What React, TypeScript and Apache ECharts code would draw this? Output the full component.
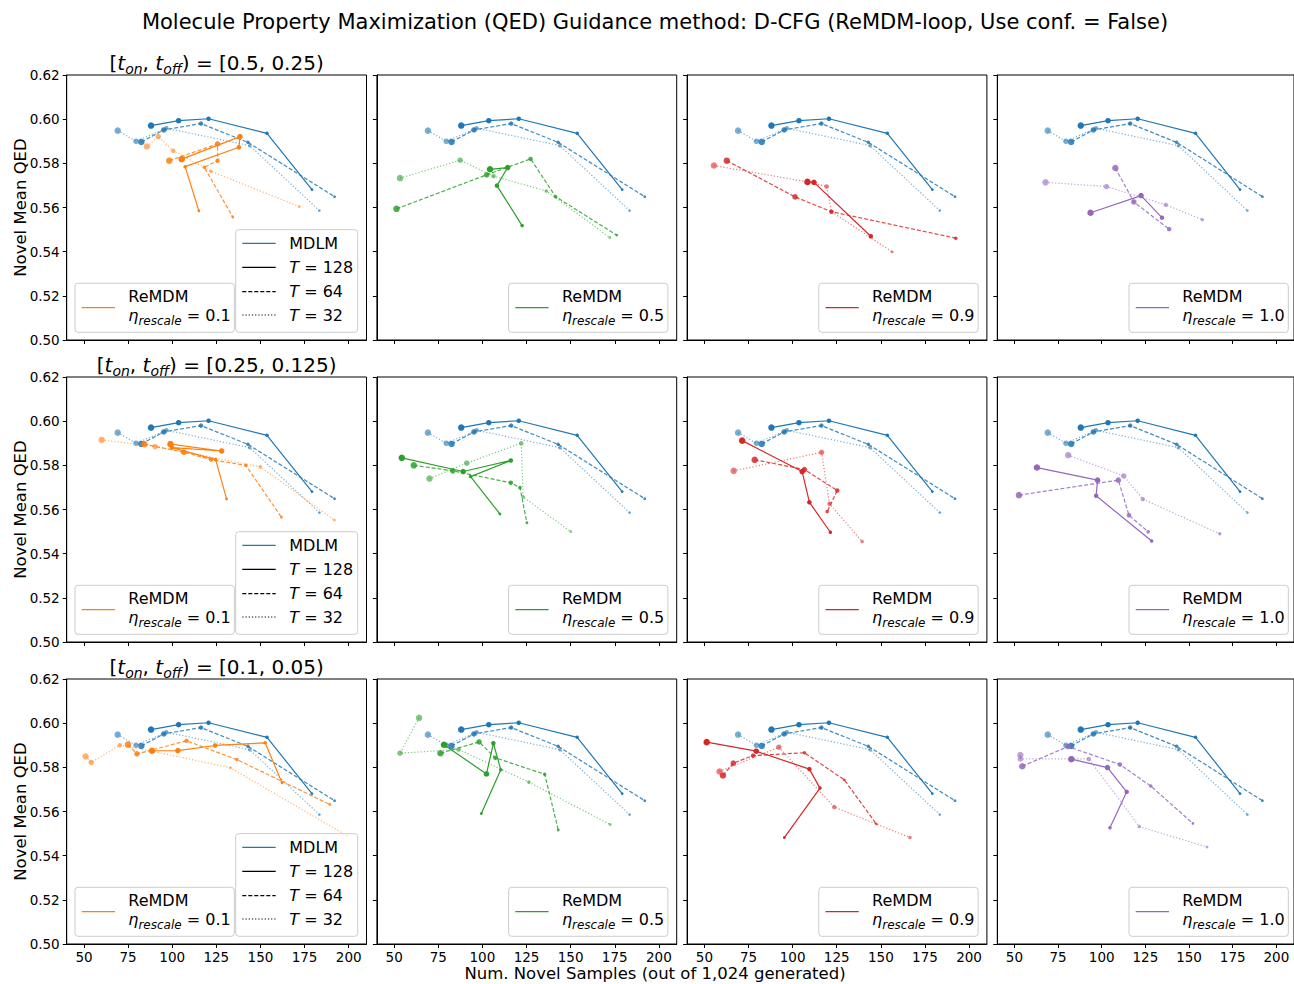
import React, { useEffect, useRef } from "react";
import * as echarts from "echarts";

// ---------------- DATA ----------------
const xTicks = [50, 75, 100, 125, 150, 175, 200];
const yTicks = [0.5, 0.52, 0.54, 0.56, 0.58, 0.6, 0.62];
const tOnOffLabels = ["[0.5, 0.25)", "[0.25, 0.125)", "[0.1, 0.05)"];
const etaLabels = ["0.1", "0.5", "0.9", "1.0"];
const stepLabels = ["128", "64", "32"];

// MDLM baseline (same in every panel)
const mdlmT128 = [[88.0, 0.5971], [103.6, 0.5993], [120.6, 0.6002], [153.7, 0.5936], [179.2, 0.5681]];
const mdlmT64 = [[82.5, 0.5897], [95.2, 0.5951], [116.3, 0.598], [142.9, 0.5895], [192.0, 0.5649]];
const mdlmT32 = [[69.1, 0.5948], [79.5, 0.59], [96.7, 0.5959], [143.9, 0.588], [183.4, 0.5586]];

// Row 1: [t_on, t_off) = [0.5, 0.25)
const r1Eta01T128 = [[105.4, 0.5819], [138.4, 0.5921], [137.8, 0.5873], [107.3, 0.5785], [115.1, 0.5585]];
const r1Eta01T64 = [[98.3, 0.5812], [125.7, 0.5888], [125.7, 0.5812], [118.2, 0.5782], [134.3, 0.5557]];
const r1Eta01T32 = [[85.6, 0.5876], [92.1, 0.5921], [100.6, 0.5857], [122.0, 0.5764], [172.0, 0.5604]];
const r1Eta05T128 = [[104.3, 0.5773], [114.3, 0.5781], [108.2, 0.5699], [122.5, 0.5518]];
const r1Eta05T64 = [[51.3, 0.5594], [102.4, 0.5748], [127.3, 0.582], [141.5, 0.5649], [176.1, 0.5475]];
const r1Eta05T32 = [[53.3, 0.5733], [87.4, 0.5814], [106.3, 0.5742], [136.2, 0.5675], [172.2, 0.5464]];
const r1Eta09T128 = [[108.4, 0.5716], [112.1, 0.5714], [144.3, 0.547]];
const r1Eta09T64 = [[62.7, 0.5812], [101.4, 0.5648], [122.0, 0.5581], [192.5, 0.5461]];
const r1Eta09T32 = [[55.4, 0.579], [108.4, 0.5716], [119.3, 0.5695], [122.0, 0.5581], [156.4, 0.5399]];
const r1Eta10T128 = [[93.6, 0.5576], [122.5, 0.5654], [134.5, 0.5554]];
const r1Eta10T64 = [[107.8, 0.5779], [118.4, 0.5625], [138.6, 0.5502]];
const r1Eta10T32 = [[67.8, 0.5714], [102.7, 0.5695], [136.7, 0.5612], [157.6, 0.5545]];

// Row 2: [t_on, t_off) = [0.25, 0.125)
const r2Eta01T128 = [[99.0, 0.5896], [128.0, 0.5865], [99.9, 0.588], [124.6, 0.5826], [130.8, 0.5648]];
const r2Eta01T64 = [[84.2, 0.5896], [106.7, 0.5859], [122.0, 0.5826], [141.7, 0.58], [161.9, 0.5565]];
const r2Eta01T32 = [[60.0, 0.5915], [90.3, 0.5885], [106.1, 0.5862], [149.9, 0.5793], [191.9, 0.5552]];
const r2Eta05T128 = [[54.3, 0.5834], [89.1, 0.5772], [116.1, 0.5822], [93.3, 0.5749], [109.9, 0.558]];
const r2Eta05T64 = [[61.1, 0.58], [83.2, 0.5775], [116.1, 0.5721], [121.3, 0.5699], [125.2, 0.554]];
const r2Eta05T32 = [[70.0, 0.574], [91.1, 0.581], [122.0, 0.59], [123.1, 0.5657], [150.0, 0.55]];
const r2Eta09T128 = [[71.4, 0.5912], [105.4, 0.5772], [109.5, 0.5633], [121.4, 0.5497]];
const r2Eta09T64 = [[78.5, 0.5825], [106.7, 0.5781], [125.3, 0.5686], [119.6, 0.5591]];
const r2Eta09T32 = [[66.6, 0.5775], [116.4, 0.5859], [120.9, 0.5626], [139.4, 0.5455]];
const r2Eta10T128 = [[62.9, 0.579], [97.6, 0.5733], [96.8, 0.5662], [128.6, 0.5457]];
const r2Eta10T64 = [[52.6, 0.5665], [109.5, 0.5733], [115.6, 0.5574], [126.6, 0.5499]];
const r2Eta10T32 = [[80.8, 0.5846], [112.6, 0.5752], [123.5, 0.5647], [167.6, 0.549]];

// Row 3: [t_on, t_off) = [0.1, 0.05)
const r3Eta01T128 = [[88.5, 0.5875], [103.2, 0.5876], [124.3, 0.5899], [152.7, 0.5911], [162.2, 0.573]];
const r3Eta01T64 = [[74.9, 0.5903], [80.0, 0.5861], [108.1, 0.592], [136.7, 0.5835], [189.3, 0.5632]];
const r3Eta01T32 = [[50.9, 0.5849], [54.1, 0.5822], [70.3, 0.59], [89.2, 0.5872], [133.0, 0.5798], [199.1, 0.549]];
const r3Eta05T128 = [[78.2, 0.5902], [102.3, 0.577], [106.2, 0.5909], [110.4, 0.5789], [99.4, 0.5591]];
const r3Eta05T64 = [[76.2, 0.5864], [98.1, 0.5915], [107.3, 0.5843], [135.3, 0.5769], [143.0, 0.5516]];
const r3Eta05T32 = [[64.1, 0.6024], [53.3, 0.5864], [86.5, 0.5881], [126.3, 0.5733], [172.4, 0.5541]];
const r3Eta09T128 = [[51.3, 0.5914], [79.4, 0.5873], [109.5, 0.5792], [115.5, 0.5706], [95.3, 0.5482]];
const r3Eta09T64 = [[60.5, 0.5763], [66.4, 0.5819], [77.6, 0.5853], [106.7, 0.5866], [129.3, 0.5743], [147.4, 0.5544]];
const r3Eta09T32 = [[58.6, 0.5781], [92.2, 0.5891], [123.6, 0.562], [166.5, 0.5482]];
const r3Eta10T128 = [[82.6, 0.5837], [103.3, 0.5799], [114.3, 0.5689], [104.7, 0.5526]];
const r3Eta10T64 = [[54.5, 0.5805], [80.6, 0.5894], [110.4, 0.5813], [128.1, 0.5715], [152.2, 0.5546]];
const r3Eta10T32 = [[53.4, 0.5856], [53.4, 0.5838], [92.6, 0.5838], [121.5, 0.5532], [160.3, 0.5439]];

const mdlmLines = [mdlmT128, mdlmT64, mdlmT32];
const remdmLines = [
  [
    [r1Eta01T128, r1Eta01T64, r1Eta01T32],
    [r1Eta05T128, r1Eta05T64, r1Eta05T32],
    [r1Eta09T128, r1Eta09T64, r1Eta09T32],
    [r1Eta10T128, r1Eta10T64, r1Eta10T32],
  ],
  [
    [r2Eta01T128, r2Eta01T64, r2Eta01T32],
    [r2Eta05T128, r2Eta05T64, r2Eta05T32],
    [r2Eta09T128, r2Eta09T64, r2Eta09T32],
    [r2Eta10T128, r2Eta10T64, r2Eta10T32],
  ],
  [
    [r3Eta01T128, r3Eta01T64, r3Eta01T32],
    [r3Eta05T128, r3Eta05T64, r3Eta05T32],
    [r3Eta09T128, r3Eta09T64, r3Eta09T32],
    [r3Eta10T128, r3Eta10T64, r3Eta10T32],
  ],
];

// ---------------- STYLE / LAYOUT ----------------
const FONT = "DejaVu Sans";
const MDLM_COLOR = "#1f77b4";
const ETA_COLORS = ["#ff7f0e", "#2ca02c", "#d62728", "#9467bd"];
const PANEL_LEFT = [66.7, 376.9, 687.1, 997.3];
const PANEL_TOP = [75, 377, 679];
const PANEL_W = 299.8;
const PANEL_H = 265;
const X_MIN = 40.2;
const X_MAX = 210.1;
const LINE_STYLES: any[] = [
  { type: "solid", opacity: 1 },
  { type: [4, 2], opacity: 0.85 },
  { type: [1.2, 2], opacity: 0.6 },
];
const MARKER_SIZES = [6.5, 5.5, 4.5, 3.5, 2.8, 2.5];

const richMath = (size: number, sub: number) => ({
  n: { fontSize: size, fontFamily: FONT, fill: "#000", lineHeight: size + 6 },
  i: { fontSize: size, fontFamily: FONT, fontStyle: "italic", fill: "#000", lineHeight: size + 6 },
  s: { fontSize: sub, fontFamily: FONT, fontStyle: "italic", fill: "#000", lineHeight: sub + 4, verticalAlign: "bottom" },
});

function buildOption() {
  const grid: any[] = [];
  const xAxis: any[] = [];
  const yAxis: any[] = [];
  const series: any[] = [];
  const graphic: any[] = [];

  for (let r = 0; r < 3; r++) {
    for (let c = 0; c < 4; c++) {
      const g = r * 4 + c;
      grid.push({
        left: PANEL_LEFT[c],
        top: PANEL_TOP[r],
        width: PANEL_W,
        height: PANEL_H,
        show: true,
        borderColor: "#000",
        borderWidth: 1,
        backgroundColor: "transparent",
        containLabel: false,
      });
      xAxis.push({
        type: "value",
        gridIndex: g,
        min: X_MIN,
        max: X_MAX,
        axisLine: { show: true, onZero: false, lineStyle: { color: "#000", width: 1 } },
        axisTick: { show: true, length: 4, lineStyle: { color: "#000", width: 1 }, customValues: xTicks },
        axisLabel: {
          show: r === 2,
          customValues: xTicks,
          color: "#000",
          fontSize: 13.5,
          fontFamily: FONT,
          margin: 6,
        },
        splitLine: { show: false },
      });
      yAxis.push({
        type: "value",
        gridIndex: g,
        min: 0.5,
        max: 0.62,
        axisLine: { show: true, onZero: false, lineStyle: { color: "#000", width: 1 } },
        axisTick: { show: true, length: 4, lineStyle: { color: "#000", width: 1 }, customValues: yTicks },
        axisLabel: {
          show: c === 0,
          customValues: yTicks,
          formatter: (v: number) => v.toFixed(2),
          color: "#000",
          fontSize: 13.5,
          fontFamily: FONT,
          margin: 7,
        },
        splitLine: { show: false },
      });

      const addLine = (data: number[][], color: string, k: number, z: number) => {
        const st = LINE_STYLES[k];
        series.push({
          type: "line",
          xAxisIndex: g,
          yAxisIndex: g,
          data,
          z,
          silent: true,
          symbol: "circle",
          showSymbol: true,
          showAllSymbol: true,
          symbolSize: (_v: any, p: any) => MARKER_SIZES[Math.min(p.dataIndex, MARKER_SIZES.length - 1)],
          lineStyle: { color, width: 1.2, type: st.type, opacity: st.opacity },
          itemStyle: { color, opacity: st.opacity, borderWidth: 0 },
          emphasis: { disabled: true },
          clip: true,
        });
      };
      mdlmLines.forEach((d, k) => addLine(d, MDLM_COLOR, k, 2));
      remdmLines[r][c].forEach((d, k) => addLine(d, ETA_COLORS[c], k, 3));

      // ReMDM legend
      const pr = PANEL_LEFT[c] + PANEL_W;
      const bw = 159.3;
      const L = c === 0 ? PANEL_LEFT[0] + 8.3 : pr - 8.8 - bw;
      const T = PANEL_TOP[r] + 208.3;
      graphic.push({
        type: "rect",
        z: 100,
        shape: { x: L, y: T, width: bw, height: 49, r: 3 },
        style: { fill: "rgba(255,255,255,0.8)", stroke: "#cccccc", lineWidth: 1 },
      });
      graphic.push({
        type: "line",
        z: 101,
        shape: { x1: L + 6.7, y1: T + 24.4, x2: L + 40, y2: T + 24.4 },
        style: { stroke: ETA_COLORS[c], lineWidth: 1.2 },
      });
      graphic.push({
        type: "text",
        z: 101,
        x: L + 53.3,
        y: T + 13.4,
        style: { text: "ReMDM", fontSize: 16, fontFamily: FONT, fill: "#000", align: "left", verticalAlign: "middle" },
      });
      graphic.push({
        type: "text",
        z: 101,
        x: L + 53.3,
        y: T + 32.5,
        style: {
          text: `{i|η}{s|rescale}{n| = ${etaLabels[c]}}`,
          rich: richMath(16, 12),
          align: "left",
          verticalAlign: "middle",
        },
      });

      if (c === 0) {
        const ML = 235.7;
        const MT = PANEL_TOP[r] + 154.7;
        graphic.push({
          type: "rect",
          z: 100,
          shape: { x: ML, y: MT, width: 122, height: 102.6, r: 3 },
          style: { fill: "rgba(255,255,255,0.8)", stroke: "#cccccc", lineWidth: 1 },
        });
        const ys = [13.6, 37.6, 62, 85.3];
        graphic.push({
          type: "line",
          z: 101,
          shape: { x1: ML + 6.6, y1: MT + ys[0], x2: ML + 40, y2: MT + ys[0] },
          style: { stroke: MDLM_COLOR, lineWidth: 1.2 },
        });
        graphic.push({
          type: "text",
          z: 101,
          x: ML + 53.6,
          y: MT + ys[0],
          style: { text: "MDLM", fontSize: 16, fontFamily: FONT, fill: "#000", align: "left", verticalAlign: "middle" },
        });
        stepLabels.forEach((s, k) => {
          const ty = MT + ys[k + 1];
          const dash = LINE_STYLES[k].type;
          graphic.push({
            type: "line",
            z: 101,
            shape: { x1: ML + 6.6, y1: ty, x2: ML + 40, y2: ty },
            style: { stroke: "#000", lineWidth: 1.2, lineDash: dash === "solid" ? null : dash },
          });
          graphic.push({
            type: "text",
            z: 101,
            x: ML + 53.6,
            y: ty,
            style: { text: `{i|T}{n| = ${s}}`, rich: richMath(16, 12), align: "left", verticalAlign: "middle" },
          });
        });
      }
    }

    // row title
    graphic.push({
      type: "text",
      z: 101,
      x: PANEL_LEFT[0] + PANEL_W / 2,
      y: PANEL_TOP[r] - 12,
      style: {
        text: `{n|[}{i|t}{s|on}{n|, }{i|t}{s|off}{n|) = ${tOnOffLabels[r]}}`,
        rich: richMath(20, 14),
        align: "center",
        verticalAlign: "middle",
      },
    });
    // y label
    graphic.push({
      type: "text",
      z: 101,
      x: 20,
      y: PANEL_TOP[r] + PANEL_H / 2,
      rotation: Math.PI / 2,
      style: { text: "Novel Mean QED", fontSize: 16.5, fontFamily: FONT, fill: "#000", align: "center", verticalAlign: "middle" },
    });
  }

  graphic.push({
    type: "text",
    z: 101,
    x: 655,
    y: 22,
    style: {
      text: "Molecule Property Maximization (QED) Guidance method: D-CFG (ReMDM-loop, Use conf. = False)",
      fontSize: 21,
      fontFamily: FONT,
      fill: "#000",
      align: "center",
      verticalAlign: "middle",
    },
  });
  graphic.push({
    type: "text",
    z: 101,
    x: 655,
    y: 973,
    style: {
      text: "Num. Novel Samples (out of 1,024 generated)",
      fontSize: 16.5,
      fontFamily: FONT,
      fill: "#000",
      align: "center",
      verticalAlign: "middle",
    },
  });

  return {
    animation: false,
    backgroundColor: "#ffffff",
    textStyle: { fontFamily: FONT },
    grid,
    xAxis,
    yAxis,
    series,
    graphic: { elements: graphic },
  };
}

export default function App() {
  const ref = useRef<HTMLDivElement>(null);
  useEffect(() => {
    if (!ref.current) return;
    const chart = echarts.init(ref.current, undefined, { renderer: "svg" });
    chart.setOption(buildOption() as any);
    return () => chart.dispose();
  }, []);
  return (
    <div
      ref={ref}
      style={{ position: "absolute", left: 0, top: 0, width: 1294, height: 984, background: "#fff" }}
    />
  );
}
